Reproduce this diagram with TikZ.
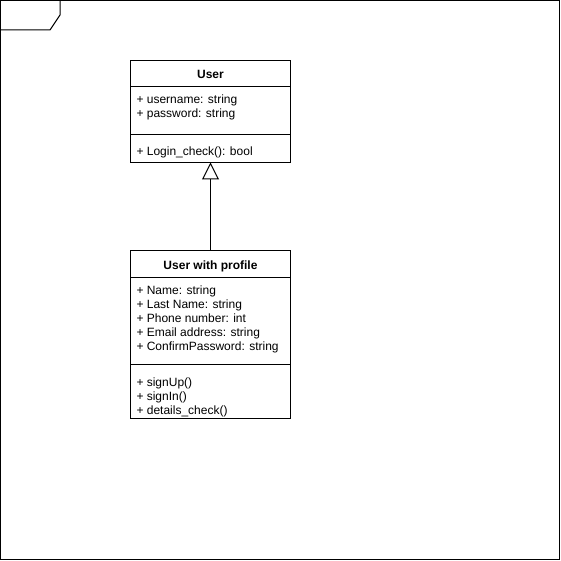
\documentclass[tikz,border=0pt]{standalone}
\usepackage{fontspec}
\setmainfont{Liberation Sans}
\usetikzlibrary{positioning,arrows.meta}

\begin{document}
\begin{tikzpicture}[x=1pt,y=-1pt,line width=1pt,font=\fontsize{12}{14}\selectfont]
    % Define styles
    \tikzstyle{compartment} = [rectangle, draw, minimum width=160pt, outer sep=0pt, inner sep=0pt]
    \tikzstyle{classhead} = [compartment, minimum height=26.5pt, font=\fontsize{12}{14}\selectfont\bfseries, text height=10.5pt, text depth=0pt]
    \tikzstyle{member} = [anchor=base west, inner sep=0pt, align=left]
    \tikzstyle{inherit} = [-{Triangle[open,length=17pt,width=17pt]}]

    \useasboundingbox (0,0) rectangle (561,561);

    % Frame
    \draw (0.5,0.5) rectangle (559.5,559.5);
    \draw (60,0.5) -- (60,15) -- (50,30) -- (0.5,30);

    % Class User
    \node[classhead, anchor=north west] (userHead) at (130.5,60.5) {User};
    \node[compartment, minimum height=47.5pt, below=0pt of userHead] (userAttr) {};
    \node[compartment, minimum height=28pt, below=0pt of userAttr] (userOps) {};
    \node[member] (userAttrTxt) at (136,118) {+ username: string\\+ password: string};
    \node[member] (userOpsTxt) at (136,156) {+ Login\_check(): bool};

    % Class User with profile
    \node[classhead, anchor=north west] (profileHead) at (130.5,250.5) {User with profile};
    \node[compartment, minimum height=87.5pt, below=0pt of profileHead] (profileAttr) {};
    \node[compartment, minimum height=54pt, below=0pt of profileAttr] (profileOps) {};
    \node[member] (profileAttrTxt) at (136,350) {+ Name: string\\+ Last Name: string\\+ Phone number: int\\+ Email address: string\\+ ConfirmPassword: string};
    \node[member] (profileOpsTxt) at (136,414) {+ signUp()\\+ signIn()\\+ details\_check()};

    % Generalization
    \draw[inherit] (profileHead) -- (userOps);
\end{tikzpicture}
\end{document}
